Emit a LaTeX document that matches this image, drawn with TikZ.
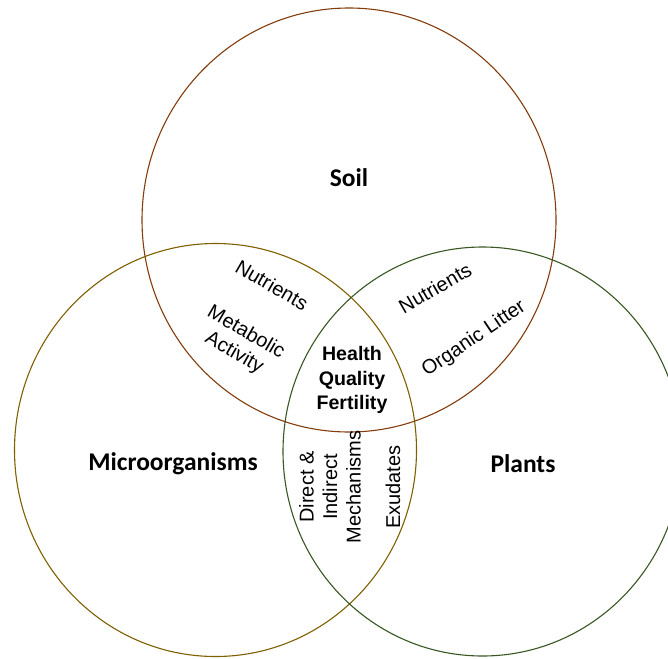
\documentclass[tikz,border=0pt]{standalone}
\usepackage{fontspec}
\setmainfont{Liberation Sans}
\newfontfamily\carl{Carlito}
\definecolor{soilc}{HTML}{843C0C}
\definecolor{microc}{HTML}{7F6000}
\definecolor{plantc}{HTML}{385723}
\begin{document}
\begin{tikzpicture}[x=1pt,y=-1pt,
  ring/.style={line width=1.1pt},
  big/.style={font=\carl\fontsize{25.5}{30}\selectfont\bfseries},
  small/.style={font=\fontsize{20}{23.5}\selectfont, align=center, inner sep=0pt},
  center/.style={font=\fontsize{19.6}{24.5}\selectfont\bfseries, align=center, inner sep=0pt}]
\useasboundingbox (0,0) rectangle (668,658);
\begin{scope}
\clip (0,0) rectangle (668,658);
\draw[ring, soilc] (349,220) ellipse [x radius=207, y radius=212];
\draw[ring, microc] (215.5,450) ellipse [x radius=201, y radius=206.5];
\draw[ring, plantc] (482.5,451.5) ellipse [x radius=199.5, y radius=204.5];
\end{scope}
\node[big] (soil) at (349,178) {Soil};
\node[big] (micro) at (173,464) {Microorganisms};
\node[big] (plants) at (523,464) {Plants};
\node[small, rotate=-30] (nl) at (272,285) {Nutrients};
\node[small, rotate=-30] (ma) at (240,343) {Metabolic\\Activity};
\node[small, rotate=30] (nr) at (435,288) {Nutrients};
\node[small, rotate=34] (ol) at (474,339) {Organic Litter};
\node[center] (hqf) at (352,380) {Health\\Quality\\Fertility};
\node[small, rotate=90] (dim) at (330,487) {Direct \&\\Indirect\\Mechanisms};
\node[small, rotate=90] (ex) at (393,487) {Exudates};
\end{tikzpicture}
\end{document}
